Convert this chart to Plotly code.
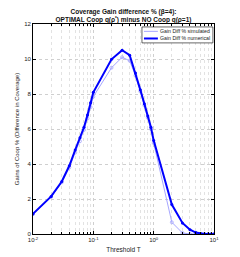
import plotly.graph_objects as go

threshold = [0.01, 0.02, 0.03, 0.04, 0.05, 0.06, 0.07, 0.08, 0.09,
             0.1, 0.2, 0.3, 0.4, 0.5, 0.6, 0.7, 0.8, 0.9,
             1, 2, 3, 4, 5, 6, 7, 8, 9, 10]
gain_numerical = [1.15, 2.15, 3.0, 3.9, 4.8, 5.5, 6.1, 6.8, 7.5,
                  8.1, 9.98, 10.5, 10.22, 9.2, 8.25, 7.45, 6.75, 6.1,
                  5.35, 1.68, 0.63, 0.25, 0.08, 0.02, 0.0, 0.0, 0.0, 0.0]
gain_simulated = [1.15, 2.12, 2.95, 3.8, 4.65, 5.3, 5.95, 6.6, 7.25,
                  7.85, 9.5, 10.1, 9.9, 9.05, 8.15, 7.35, 6.65, 6.0,
                  5.2, 0.67, 0.06, 0.0, 0.0, 0.0, 0.0, 0.0, 0.0, 0.0]
series_names = ["Gain Diff % simulated", "Gain Diff % numerical"]
series_colors = ["#a6a6ff", "#0000ff"]
x_tick_values = [0.01, 0.1, 1, 10]
x_tick_labels = ["10<sup>-2</sup>", "10<sup>-1</sup>", "10<sup>0</sup>", "10<sup>1</sup>"]

font_family = "Liberation Sans, Arial, sans-serif"

fig = go.Figure()
fig.add_trace(go.Scatter(
    x=threshold, y=gain_simulated, mode="lines+markers",
    name=series_names[0],
    line=dict(color=series_colors[0], width=1),
    marker=dict(symbol="circle-open", size=3, color=series_colors[0], line=dict(width=0.8)),
))
fig.add_trace(go.Scatter(
    x=threshold, y=gain_numerical, mode="lines+markers",
    name=series_names[1],
    line=dict(color=series_colors[1], width=2),
    marker=dict(symbol="circle", size=3, color=series_colors[1]),
))

# custom compact legend (MATLAB style)
lx0, lx1, ly0, ly1 = 0.602, 0.994, 0.910, 0.986
fig.add_shape(type="rect", xref="paper", yref="paper", x0=lx0, x1=lx1, y0=ly0, y1=ly1,
              line=dict(color="black", width=0.6), fillcolor="white", layer="above")
entry_y = [0.965, 0.931]
widths = [1, 2]
for name, color, yy, w in zip(series_names, series_colors, entry_y, widths):
    fig.add_shape(type="line", xref="paper", yref="paper", x0=0.613, x1=0.69, y0=yy, y1=yy,
                  line=dict(color=color, width=w), layer="above")
    fig.add_annotation(xref="paper", yref="paper", x=0.693, y=yy, text=name,
                       showarrow=False, xanchor="left", yanchor="middle",
                       font=dict(size=5.2, family=font_family, color="#222"))

grid_color = "#cfcfcf"
fig.update_layout(
    width=240, height=257,
    margin=dict(l=33, r=26, t=24, b=23),
    paper_bgcolor="white", plot_bgcolor="white",
    font=dict(family=font_family, size=6, color="#222"),
    title=dict(
        text="<b>Coverage Gain difference % (β=4):<br>OPTIMAL Coop q(ρ<sup>*</sup>) minus NO Coop q(ρ=1)</b>",
        x=0.5, xanchor="center", xref="paper", y=1 - 14 / 257, yanchor="top", yref="container",
        font=dict(size=6.5, family=font_family, color="#111"),
    ),
    showlegend=False,
)
fig.update_xaxes(
    type="log", range=[-2, 1], automargin=False,
    tickmode="array", tickvals=x_tick_values, ticktext=x_tick_labels,
    showline=True, linecolor="black", linewidth=0.8, mirror="ticks",
    ticks="inside", ticklen=3, tickcolor="black",
    showgrid=True, gridcolor=grid_color, griddash="dot", gridwidth=0.6,
    minor=dict(dtick="D1", showgrid=True, gridcolor="#e2e2e2", griddash="dot",
               gridwidth=0.5, ticks="inside", ticklen=2, tickcolor="black"),
    title=dict(text="Threshold T", font=dict(size=6.5), standoff=5),
    tickfont=dict(size=6),
    zeroline=False,
)
fig.update_yaxes(
    range=[0, 12], dtick=2, automargin=False,
    showline=True, linecolor="black", linewidth=0.8, mirror="ticks",
    ticks="inside", ticklen=3, tickcolor="black",
    showgrid=True, gridcolor=grid_color, griddash="dot", gridwidth=0.6,
    title=dict(text="Gains of Coop % (Difference in Coverage)", font=dict(size=6), standoff=4),
    tickfont=dict(size=6),
    zeroline=False,
)

fig.write_html("out.html", config={"displayModeBar": False},
               post_script="document.body.style.margin='0';")
